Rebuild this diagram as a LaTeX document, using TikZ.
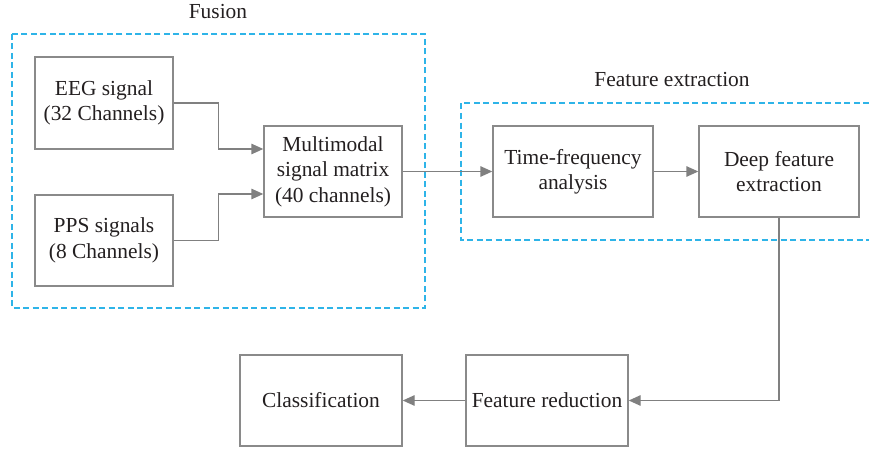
\documentclass[tikz,border=0pt]{standalone}
\usepackage{fontspec}
\setmainfont{Liberation Serif}
\usetikzlibrary{arrows.meta}
\definecolor{boxgray}{HTML}{8A8A8A}
\definecolor{arrgray}{HTML}{808080}
\definecolor{dashblue}{HTML}{2EB4E8}
\definecolor{txt}{HTML}{231F20}
\tikzset{
  blk/.style={draw=boxgray, line width=1.4bp, rectangle, align=center, inner sep=2bp,
    text=txt, font=\fontsize{21.5}{25.5}\selectfont},
  conn/.style={draw=arrgray, line width=1.4bp, -{Triangle[length=12bp,width=10.5bp]}},
  grp/.style={draw=dashblue, line width=1.4bp, dash pattern=on 6bp off 3.5bp},
  lbl/.style={text=txt, font=\fontsize{21.5}{25.5}\selectfont, inner sep=0pt}
}
\begin{document}
\begin{tikzpicture}[x=1bp,y=-1bp]
\useasboundingbox (0,0) rectangle (871,449);
% groups
\draw[grp] (12,34) rectangle (425,308);
\draw[grp] (869,103) -- (461,103) -- (461,240) -- (869,240);
\node[lbl] (fusionlbl) at (218,12) {Fusion};
\node[lbl] (fextlbl) at (672,80) {Feature extraction};
% boxes
\node[blk, minimum width=138bp, minimum height=92bp] (eeg) at (104,103) {EEG signal\\(32 Channels)};
\node[blk, minimum width=138bp, minimum height=91bp] (pps) at (104,240.5) {PPS signals\\(8 Channels)};
\node[blk, minimum width=138bp, minimum height=91bp] (mm) at (333,171.5) {Multimodal\\signal matrix\\(40 channels)};
\node[blk, minimum width=160bp, minimum height=91bp] (tf) at (573,171.5) {Time-frequency\\analysis};
\node[blk, minimum width=160bp, minimum height=91bp] (deep) at (779,171.5) {Deep feature\\extraction};
\node[blk, minimum width=162bp, minimum height=91bp] (fr) at (547,400.5) {Feature reduction};
\node[blk, minimum width=162bp, minimum height=91bp] (cls) at (321,400.5) {Classification};
% connectors
\draw[conn] (eeg.east) -- ++(45,0) |- ([yshift=22.5bp]mm.west);
\draw[conn] (pps.east) -- ++(45,0) |- ([yshift=-22.5bp]mm.west);
\draw[conn] (mm.east) -- (tf.west);
\draw[conn] (tf.east) -- (deep.west);
\draw[conn] (deep.south) |- (fr.east);
\draw[conn] (fr.west) -- (cls.east);
\end{tikzpicture}
\end{document}
